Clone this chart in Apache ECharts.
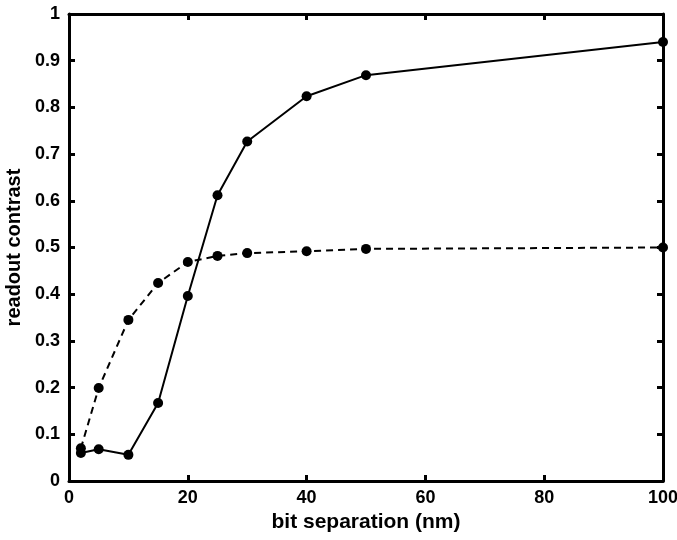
<!DOCTYPE html>
<html>
<head>
<meta charset="utf-8">
<script src="https://cdn.jsdelivr.net/npm/echarts@6/dist/echarts.min.js"></script>
<style>
  html, body { margin: 0; padding: 0; background: #fff; }
  #chart { width: 677px; height: 540px; }
</style>
</head>
<body>
<div id="chart"></div>
<script>
const separation = [2, 5, 10, 15, 20, 25, 30, 40, 50, 100];
const contrastSolid = [0.06, 0.068, 0.056, 0.167, 0.396, 0.612, 0.727, 0.824, 0.869, 0.94];
const contrastDashed = [0.07, 0.199, 0.345, 0.424, 0.469, 0.482, 0.488, 0.492, 0.497, 0.5];

const font = "Liberation Sans, Arial, sans-serif";

function pairs(xs, ys) {
  return xs.map((x, i) => [x, ys[i]]);
}

const axisLine = { show: true, onZero: false, lineStyle: { color: "#000", width: 3 } };
const axisTick = { show: true, inside: true, length: 6, lineStyle: { color: "#000", width: 3 } };

let chart = echarts.init(document.getElementById("chart"), null, { renderer: "canvas" });

chart.setOption({
  animation: false,
  backgroundColor: "#fff",
  grid: { left: 69, top: 14, right: 14, bottom: 59, containLabel: false, outerBoundsMode: "none" },
  xAxis: [
    {
      type: "value",
      min: 0,
      max: 100,
      interval: 20,
      name: "bit separation (nm)",
      nameLocation: "middle",
      nameGap: 24,
      nameTextStyle: { fontFamily: font, fontWeight: "bold", fontSize: 21, color: "#000" },
      axisLine: axisLine,
      axisTick: axisTick,
      axisLabel: { fontFamily: font, fontWeight: "bold", fontSize: 18, color: "#000", margin: 8 },
      splitLine: { show: false }
    },
    {
      type: "value",
      position: "top",
      min: 0,
      max: 100,
      interval: 20,
      axisLine: axisLine,
      axisTick: axisTick,
      axisLabel: { show: false },
      splitLine: { show: false }
    }
  ],
  yAxis: [
    {
      type: "value",
      min: 0,
      max: 1,
      interval: 0.1,
      name: "readout contrast",
      nameLocation: "middle",
      nameGap: 16,
      nameTextStyle: { fontFamily: font, fontWeight: "bold", fontSize: 20, color: "#000" },
      axisLine: axisLine,
      axisTick: axisTick,
      axisLabel: {
        fontFamily: font, fontWeight: "bold", fontSize: 18, color: "#000", margin: 9,
        formatter: v => String(Math.round(v * 10) / 10)
      },
      splitLine: { show: false }
    },
    {
      type: "value",
      position: "right",
      min: 0,
      max: 1,
      interval: 0.1,
      axisLine: axisLine,
      axisTick: axisTick,
      axisLabel: { show: false },
      splitLine: { show: false }
    }
  ],
  series: [
    {
      name: "solid",
      type: "line",
      data: pairs(separation, contrastSolid),
      symbol: "circle",
      symbolSize: 10,
      itemStyle: { color: "#000" },
      lineStyle: { color: "#000", width: 2, type: "solid" },
      z: 3
    },
    {
      name: "dashed",
      type: "line",
      data: pairs(separation, contrastDashed),
      symbol: "circle",
      symbolSize: 10,
      itemStyle: { color: "#000" },
      lineStyle: { color: "#000", width: 2, type: [7, 5] },
      z: 3
    }
  ]
});

window.addEventListener("resize", function() {
  if (chart != null && chart != undefined) {
    chart.resize();
  }
});
</script>
</body>
</html>
